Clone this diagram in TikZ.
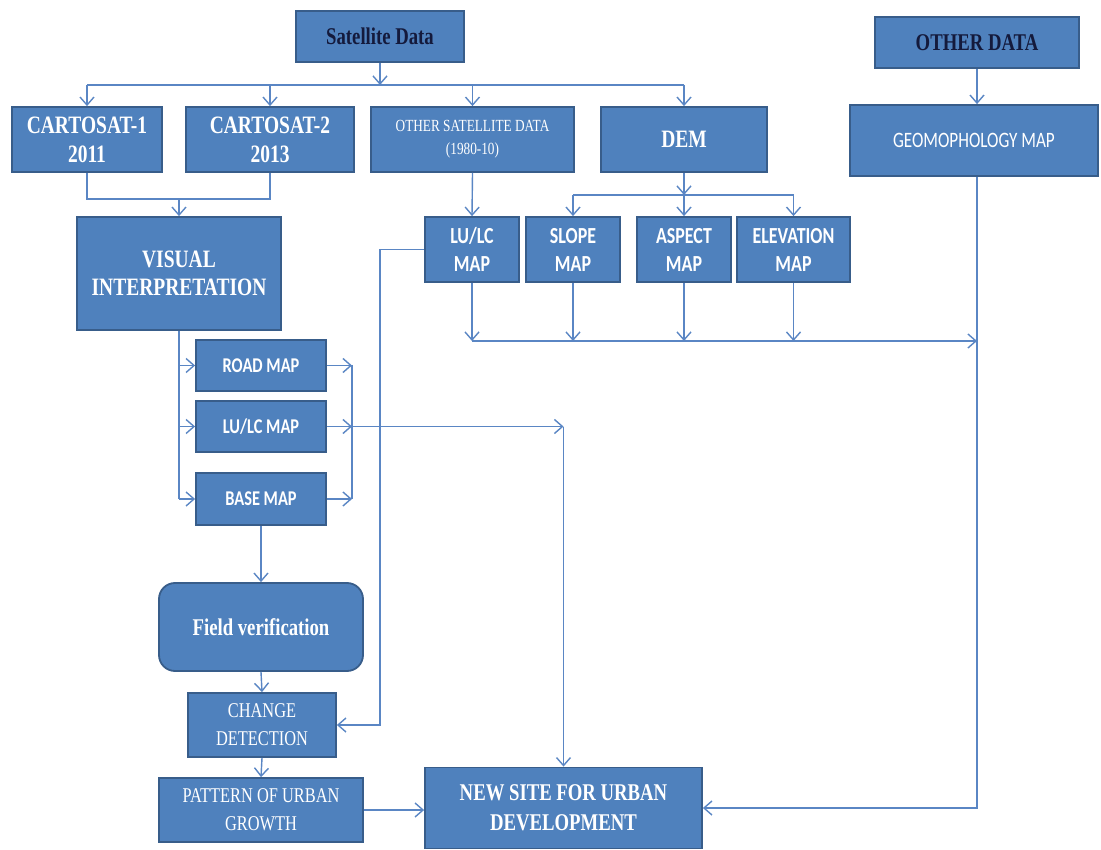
\documentclass[tikz,border=0pt]{standalone}
\usepackage{fontspec}
\usetikzlibrary{arrows.meta}
\newfontfamily\tmsfont[FakeStretch=0.78]{Liberation Serif}
\newfontfamily\calfont[FakeStretch=0.78]{Carlito}
\definecolor{boxfill}{HTML}{4F81BD}
\definecolor{boxline}{HTML}{385D8A}
\definecolor{conn}{HTML}{5A86C4}
\definecolor{navy}{HTML}{141A3C}
\tikzset{
  bx/.style={draw=boxline, fill=boxfill, line width=1.8pt, inner sep=0pt, align=center, text=white},
  conline/.style={draw=conn, line width=1.4pt},
  arr/.style={conline, -{Straight Barb[length=8pt,width=14pt,line width=1.4pt]}},
}
\begin{document}
\begin{tikzpicture}[x=1pt,y=-1pt]
\useasboundingbox[fill=white] (0,0) rectangle (1101,850);
% top row
\node[bx, minimum width=168pt, minimum height=51pt, text=navy, font=\tmsfont\bfseries\fontsize{24}{27}\selectfont] (sat) at (380,36.5) {Satellite Data};
\node[bx, minimum width=204pt, minimum height=51pt, text=navy, font=\tmsfont\bfseries\fontsize{24}{27}\selectfont] (otherdata) at (977,42.5) {OTHER DATA};
\node[bx, minimum width=150pt, minimum height=65pt, font=\tmsfont\bfseries\fontsize{25}{29}\selectfont] (cart1) at (87,139.5) {CARTOSAT-1\\2011};
\node[bx, minimum width=168pt, minimum height=65pt, font=\tmsfont\bfseries\fontsize{25}{29}\selectfont] (cart2) at (270,139.5) {CARTOSAT-2\\2013};
\node[bx, minimum width=203pt, minimum height=65pt, font=\tmsfont\fontsize{17}{23}\selectfont] (othersat) at (472.5,139.5) {OTHER SATELLITE DATA\\(1980-10)};
\node[bx, minimum width=166pt, minimum height=65pt, font=\tmsfont\bfseries\fontsize{25}{29}\selectfont] (dem) at (684,139.5) {DEM};
\node[bx, minimum width=248pt, minimum height=71pt, font=\calfont\fontsize{22}{26}\selectfont] (geo) at (974,140.5) {GEOMOPHOLOGY MAP};
% second row
\node[bx, minimum width=204pt, minimum height=113pt, font=\tmsfont\bfseries\fontsize{25}{28}\selectfont] (visual) at (179,273.5) {VISUAL\\INTERPRETATION};
\node[bx, minimum width=94pt, minimum height=65pt, font=\calfont\bfseries\fontsize{23}{28}\selectfont] (lulc1) at (472,249.5) {LU/LC\\MAP};
\node[bx, minimum width=94pt, minimum height=65pt, font=\calfont\bfseries\fontsize{23}{28}\selectfont] (slope) at (573,249.5) {SLOPE\\MAP};
\node[bx, minimum width=94pt, minimum height=65pt, font=\calfont\bfseries\fontsize{23}{28}\selectfont] (aspect) at (684,249.5) {ASPECT\\MAP};
\node[bx, minimum width=113pt, minimum height=65pt, font=\calfont\bfseries\fontsize{23}{28}\selectfont] (elev) at (793.5,249.5) {ELEVATION\\MAP};
% left column
\node[bx, minimum width=130pt, minimum height=51pt, font=\calfont\bfseries\fontsize{21}{25}\selectfont] (road) at (261,365.5) {ROAD MAP};
\node[bx, minimum width=130pt, minimum height=51pt, font=\calfont\bfseries\fontsize{21}{25}\selectfont] (lulc2) at (261,426.5) {LU/LC MAP};
\node[bx, minimum width=130pt, minimum height=52pt, font=\calfont\bfseries\fontsize{21}{25}\selectfont] (base) at (261,499) {BASE MAP};
\node[bx, rounded corners=16pt, minimum width=204pt, minimum height=88pt, font=\tmsfont\bfseries\fontsize{24}{28}\selectfont] (field) at (261,627) {Field verification};
\node[bx, minimum width=148pt, minimum height=64pt, font=\tmsfont\fontsize{21}{28}\selectfont] (change) at (262,725) {CHANGE\\DETECTION};
\node[bx, minimum width=204pt, minimum height=64pt, font=\tmsfont\fontsize{21}{28}\selectfont] (pattern) at (261,810) {PATTERN OF URBAN\\GROWTH};
\node[bx, minimum width=277pt, minimum height=81pt, font=\tmsfont\bfseries\fontsize{24}{30}\selectfont] (newsite) at (563.5,808) {NEW SITE FOR URBAN\\DEVELOPMENT};

% coordinates
\coordinate (top) at (380,85);
\coordinate (cm) at (179,199);
\coordinate (dm) at (684,195);
\coordinate (bot) at (472,341);
\coordinate (rv) at (352,426.5);
\coordinate (nv) at (563.5,426.5);
\coordinate (gv) at (977,0);

% satellite branch
\draw[arr] (sat.south) -- (top);
\draw[conline] (cart1.north |- top) -- (dem.north |- top);
\draw[arr] (cart1.north |- top) -- (cart1.north);
\draw[arr] (cart2.north |- top) -- (cart2.north);
\draw[arr] (othersat.north |- top) -- (othersat.north);
\draw[arr] (dem.north |- top) -- (dem.north);
\draw[arr] (otherdata.south) -- (gv |- geo.north);
% cartosat merge
\draw[conline] (cart1.south) |- (cm) -| (cart2.south);
\draw[arr] (cm) -- (visual.north);
% other sat to lulc
\draw[arr] (othersat.south) -- (lulc1.north);
% DEM branch
\draw[arr] (dem.south) -- (dm);
\draw[conline] (slope.north |- dm) -- (elev.north |- dm);
\draw[arr] (slope.north |- dm) -- (slope.north);
\draw[arr] (dm) -- (aspect.north);
\draw[arr] (elev.north |- dm) -- (elev.north);
% maps to geomorphology line
\draw[arr] (lulc1.south) -- (bot);
\draw[arr] (slope.south) -- (slope.south |- bot);
\draw[arr] (aspect.south) -- (aspect.south |- bot);
\draw[arr] (elev.south) -- (elev.south |- bot);
\draw[arr] (bot) -- (gv |- bot);
\draw[arr] (gv |- geo.south) |- (newsite.east);
% lulc1 to change detection
\draw[arr] (lulc1.west) -- ++(-44,0) |- (change.east);
% visual to maps
\draw[conline] (visual.south) -- (visual.south |- base.west);
\draw[arr] (visual.south |- road.west) -- (road.west);
\draw[arr] (visual.south |- lulc2.west) -- (lulc2.west);
\draw[arr] (visual.south |- base.west) -- (base.west);
\draw[arr] (road.east) -- (rv |- road.east);
\draw[arr] (lulc2.east) -- (rv);
\draw[arr] (base.east) -- (rv |- base.east);
\draw[conline] (rv |- road.east) -- (rv |- base.east);
\draw[arr] (rv) -- (nv);
\draw[arr] (nv) -- (newsite.north);
% left column chain
\draw[arr] (base.south) -- (field.north);
\draw[arr] (field.south) -- (change.north);
\draw[arr] (change.south) -- (pattern.north);
\draw[arr] (pattern.east) -- (newsite.west |- pattern.east);
\end{tikzpicture}
\end{document}
